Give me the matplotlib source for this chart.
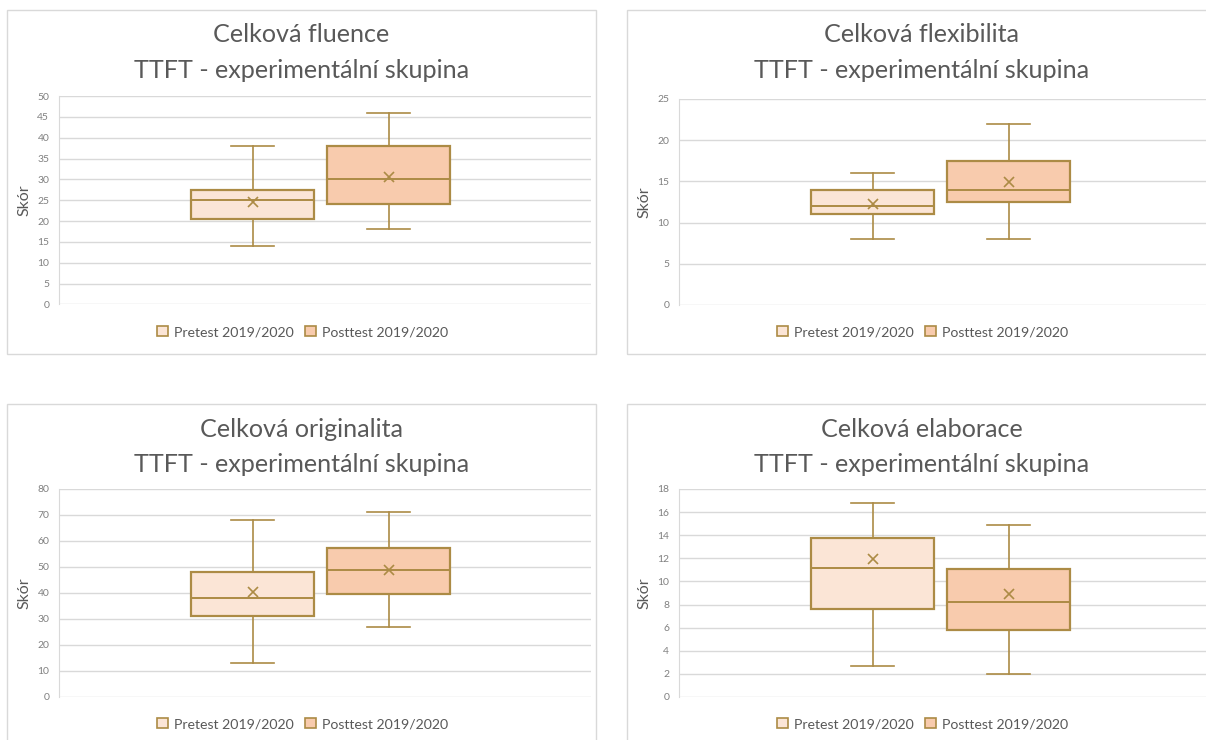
import matplotlib
matplotlib.use("Agg")
import matplotlib.pyplot as plt
from matplotlib.patches import Rectangle, Patch

plt.rcParams['font.family'] = ['Lato', 'DejaVu Sans']

# ---------------- data ----------------
series_names = ["Pretest 2019/2020", "Posttest 2019/2020"]
subtitle = "TTFT - experimentální skupina"
titles = ["Celková fluence", "Celková flexibilita", "Celková originalita", "Celková elaborace"]
y_label = "Skór"

# [min, q1, median, q3, max, mean]
fluence_pre = [14, 20.5, 25, 27.5, 38, 24.5]
fluence_post = [18, 24, 30, 38, 46, 30.5]
flexibilita_pre = [8, 11, 12, 14, 16, 12.2]
flexibilita_post = [8, 12.5, 14, 17.5, 22, 14.9]
originalita_pre = [13, 31, 38, 48, 68, 40.2]
originalita_post = [27, 39.5, 49, 57.5, 71, 48.8]
elaborace_pre = [2.7, 7.6, 11.2, 13.8, 16.8, 11.9]
elaborace_post = [2.0, 5.8, 8.2, 11.1, 14.9, 8.9]

y_max = [50, 25, 80, 18]
y_step = [5, 5, 10, 2]

# ---------------- style ----------------
W, H = 1206, 740
fill_colors = ["#FBE5D6", "#F8CBAD"]
edge = "#AC8B45"
text_col = "#595959"
grid_col = "#D9D9D9"

fig = plt.figure(figsize=(W / 100, H / 100), dpi=100)
fig.patch.set_facecolor("white")


def rect(x0, y0, x1, y1):
    return [x0 / W, 1 - y1 / H, (x1 - x0) / W, (y1 - y0) / H]


panels = [
    dict(L=7, T=10, B=354, plot=(59, 96, 591, 304.5), title_y=(35, 71), leg_y=332,
         pre=fluence_pre, post=fluence_post),
    dict(L=627, T=10, B=354, plot=(679, 99, 1211, 305), title_y=(35, 71), leg_y=332,
         pre=flexibilita_pre, post=flexibilita_post),
    dict(L=7, T=404, B=760, plot=(59, 489, 591, 697), title_y=(430, 464), leg_y=724,
         pre=originalita_pre, post=originalita_post),
    dict(L=627, T=404, B=760, plot=(679, 489, 1211, 697), title_y=(430, 464), leg_y=724,
         pre=elaborace_pre, post=elaborace_post),
]

panel_w = 589

for i, p in enumerate(panels):
    L = p["L"]
    # panel border
    fig.patches.append(Rectangle((L / W, 1 - p["B"] / H), panel_w / W, (p["B"] - p["T"]) / H,
                                 transform=fig.transFigure, fill=False,
                                 edgecolor=grid_col, linewidth=1.0, zorder=0))
    cx = (L + panel_w / 2) / W
    fig.text(cx, 1 - p["title_y"][0] / H, titles[i], ha="center", va="center",
             fontsize=18.1, color=text_col)
    fig.text(cx, 1 - p["title_y"][1] / H, subtitle, ha="center", va="center",
             fontsize=18.1, color=text_col)

    x0, y0, x1, y1 = p["plot"]
    ax = fig.add_axes(rect(x0, y0, x1, y1))
    stats = []
    for s in (p["pre"], p["post"]):
        stats.append(dict(whislo=s[0], q1=s[1], med=s[2], q3=s[3], whishi=s[4],
                          mean=s[5], fliers=[]))
    positions = [1, 2]
    bp = ax.bxp(stats, positions=positions, widths=0.91, patch_artist=True,
                showmeans=True, showfliers=False, capwidths=0.31,
                boxprops=dict(edgecolor=edge, linewidth=1.6),
                medianprops=dict(color=edge, linewidth=1.4),
                whiskerprops=dict(color=edge, linewidth=1.2),
                capprops=dict(color=edge, linewidth=1.2),
                meanprops=dict(marker="x", markeredgecolor=edge, markersize=7,
                               markeredgewidth=1.2))
    for patch, fc in zip(bp["boxes"], fill_colors):
        patch.set_facecolor(fc)
    for artist_list in bp.values():
        for a in artist_list:
            a.set_zorder(3)

    ax.set_xlim(-0.423, 3.489)
    ax.set_ylim(0, y_max[i])
    ax.set_yticks([k * y_step[i] for k in range(int(y_max[i] / y_step[i]) + 1)])
    ax.set_xticks([])
    ax.yaxis.grid(True, color=grid_col, linewidth=1.0)
    ax.set_axisbelow(True)
    for side in ("top", "right", "bottom"):
        ax.spines[side].set_visible(False)
    ax.spines["left"].set_color(grid_col)
    ax.spines["left"].set_linewidth(0.8)
    ax.tick_params(axis="y", length=0, pad=7, labelsize=7.5, labelcolor="#808080")
    ax.set_ylabel(y_label, fontsize=11.5, color=text_col, labelpad=4)
    ax.patch.set_alpha(0)

    handles = [Patch(facecolor=fill_colors[k], edgecolor=edge, linewidth=1.2,
                     label=series_names[k]) for k in range(2)]
    fig.legend(handles=handles, loc="center", ncol=2,
               bbox_to_anchor=((L + panel_w / 2 + 1) / W, 1 - p["leg_y"] / H),
               frameon=False, fontsize=10.2, labelcolor=text_col,
               handlelength=0.75, handleheight=0.75, handletextpad=0.45,
               columnspacing=0.8, borderpad=0)

fig.savefig("out.png", dpi=100, facecolor="white")
